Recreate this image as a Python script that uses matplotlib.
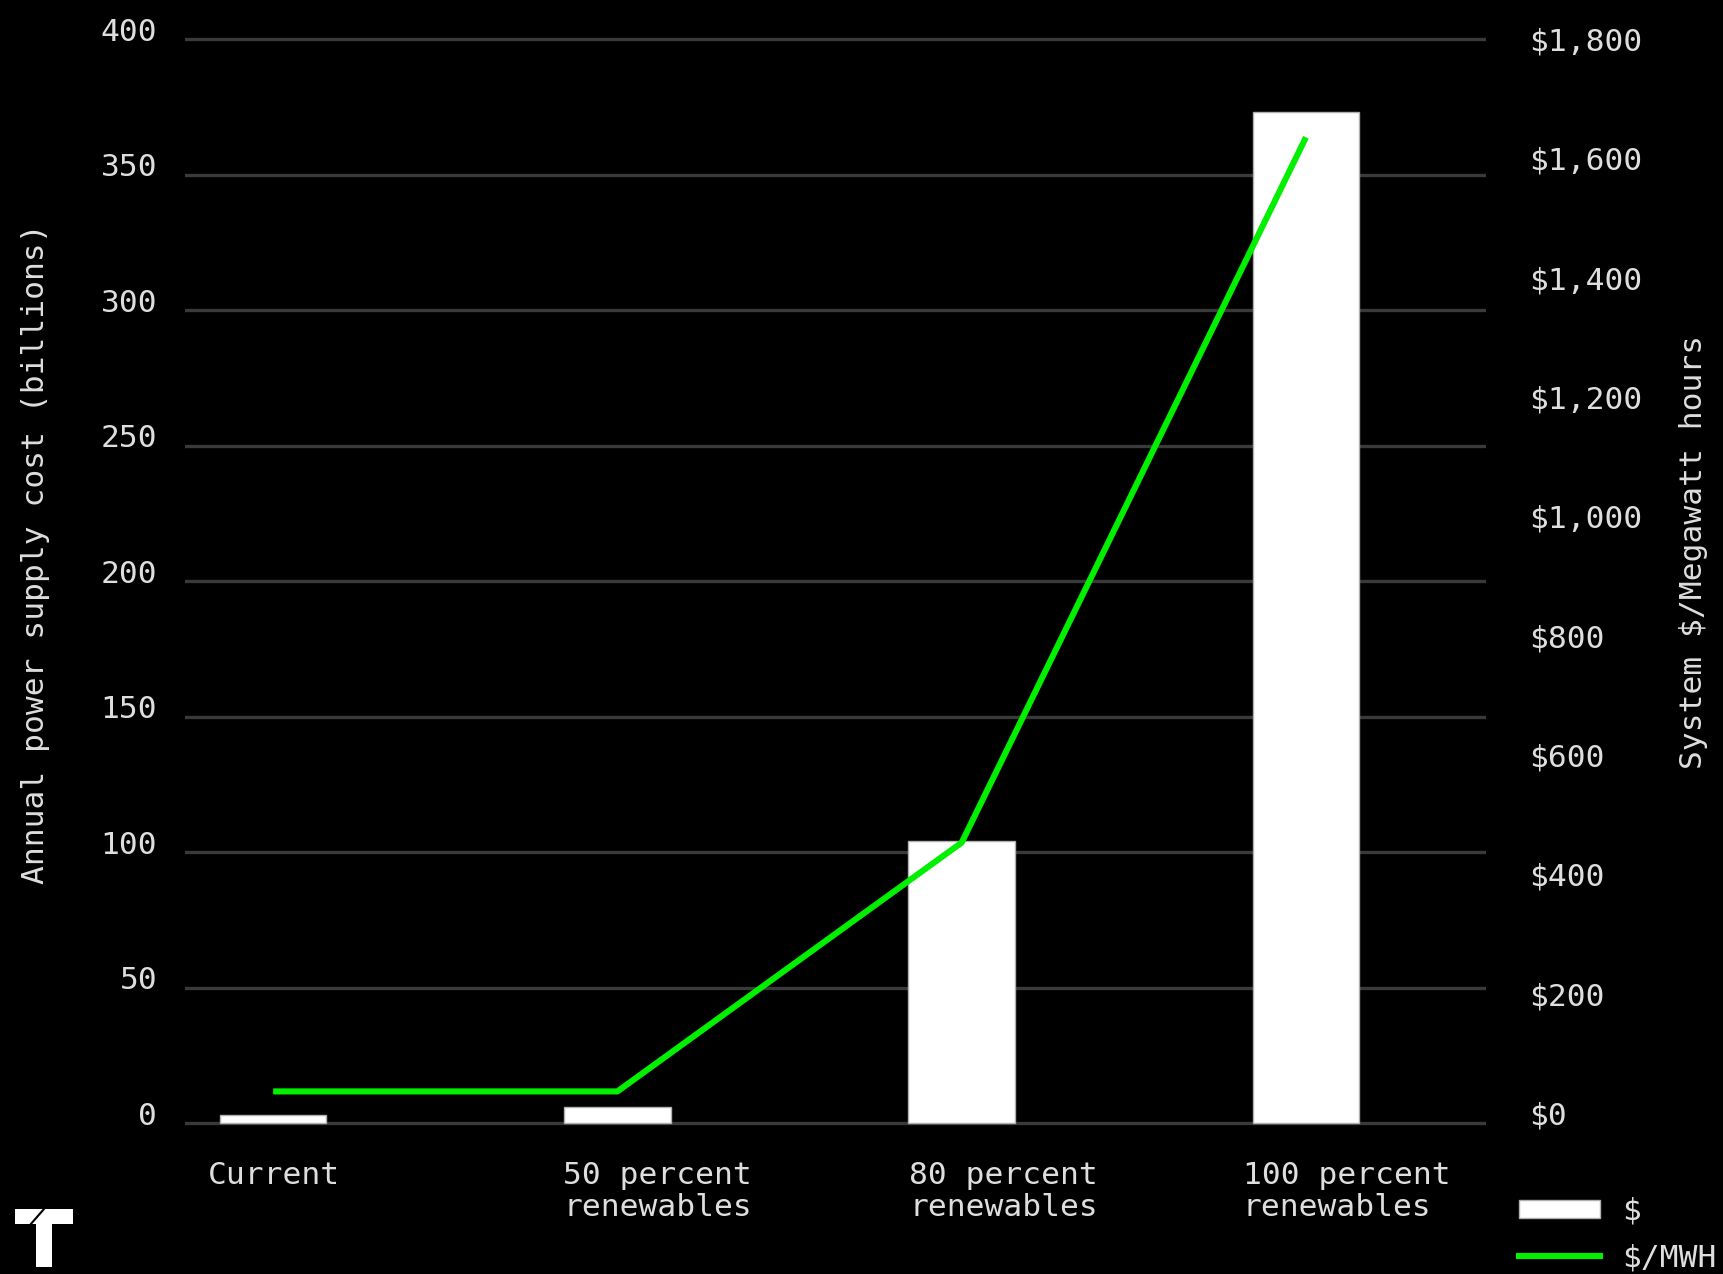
import matplotlib
matplotlib.use("Agg")
import matplotlib.pyplot as plt
from matplotlib.patches import Patch, Rectangle
from matplotlib.lines import Line2D
from matplotlib.ticker import FuncFormatter
from matplotlib.transforms import ScaledTranslation

categories = ["Current", "50 percent\nrenewables", "80 percent\nrenewables", "100 percent\nrenewables"]
supply_cost_billions = [3, 6, 104, 373]
dollars_per_mwh = [53, 53, 470, 1652]
left_ticks = [0, 50, 100, 150, 200, 250, 300, 350, 400]
right_ticks = [0, 200, 400, 600, 800, 1000, 1200, 1400, 1600, 1800]

FONT = "DejaVu Sans Mono"
TXT = "#dedede"
FS = 22.5
GREEN = "#00f000"

W, H = 1723, 1274
fig = plt.figure(figsize=(W / 100, H / 100), dpi=100, facecolor="black")
ax = fig.add_axes([185 / W, 1 - 1136.6 / H, (1486 - 185) / W, (1136.6 - 25.45) / H])
ax.set_facecolor("black")
ax2 = ax.twinx()

x = list(range(len(categories)))
ax.bar(x, supply_cost_billions, width=0.31, color="white", edgecolor="#b0b0b0", linewidth=1, zorder=3)
ax2.plot(x, dollars_per_mwh, color=GREEN, linewidth=4.4, solid_capstyle="butt", zorder=4)

ratio = 1800 / 396.3
ax.set_xlim(-0.256, 3.523)
ax.set_ylim(-5, 405)
ax2.set_ylim(-5 * ratio, 405 * ratio)

up = ScaledTranslation(0, 10 / 100, fig.dpi_scale_trans)

ax.set_yticks(left_ticks)
ax.set_yticklabels([str(v) for v in left_ticks], fontfamily=FONT, fontsize=FS, color=TXT)
ax.tick_params(axis="y", length=0, pad=20)
for lab in ax.get_yticklabels():
    lab.set_transform(lab.get_transform() + up)
ax.yaxis.grid(True, color="#3a3a3a", linewidth=2.4)
ax.set_axisbelow(True)

ax2.set_yticks(right_ticks)
ax2.yaxis.set_major_formatter(FuncFormatter(lambda v, p: "${:,.0f}".format(v)))
ax2.tick_params(axis="y", length=0, pad=31, labelsize=FS, labelcolor=TXT)
for lab in ax2.get_yticklabels():
    lab.set_fontfamily(FONT)
    lab.set_transform(lab.get_transform() + up)

ax.set_xticks([])
offsets = [-0.19, -0.157, -0.152, -0.183]
for xi, lab, off in zip(x, categories, offsets):
    ax.text(xi + off, -14, lab, ha="left", va="top", fontfamily=FONT, fontsize=FS,
            color=TXT, linespacing=1.12)

for a in (ax, ax2):
    for s in a.spines.values():
        s.set_visible(False)

fig.text(36 / W, 1 - 554 / H, "Annual power supply cost (billions)", rotation=90,
         ha="center", va="center", fontfamily=FONT, fontsize=FS, color=TXT)
fig.text(1693 / W, 1 - 552 / H, "System $/Megawatt hours", rotation=90,
         ha="center", va="center", fontfamily=FONT, fontsize=FS, color=TXT)

handles = [Patch(facecolor="white", edgecolor="#b0b0b0", linewidth=1),
           Line2D([0], [0], color=GREEN, linewidth=4.4)]
leg = fig.legend(handles, ["$", "$/MWH"], loc="upper left",
                 bbox_to_anchor=(1519 / W, 1 - 1197 / H), frameon=False,
                 borderpad=0, borderaxespad=0, handlelength=2.6, handleheight=0.5,
                 handletextpad=0.7, labelspacing=0.55,
                 prop={"family": FONT, "size": FS})
for t in leg.get_texts():
    t.set_color(TXT)

# logo
fig.add_artist(Rectangle((15 / W, 1 - 1224 / H), 58 / W, 15 / H, transform=fig.transFigure,
                         facecolor="white", edgecolor="none"))
fig.add_artist(Rectangle((36 / W, 1 - 1267 / H), 16 / W, 43 / H, transform=fig.transFigure,
                         facecolor="white", edgecolor="none"))
fig.add_artist(Line2D([30 / W, 44 / W], [1 - 1225 / H, 1 - 1209 / H], transform=fig.transFigure,
                      color="black", linewidth=1.5))

fig.savefig("out.png", dpi=100, facecolor="black")
